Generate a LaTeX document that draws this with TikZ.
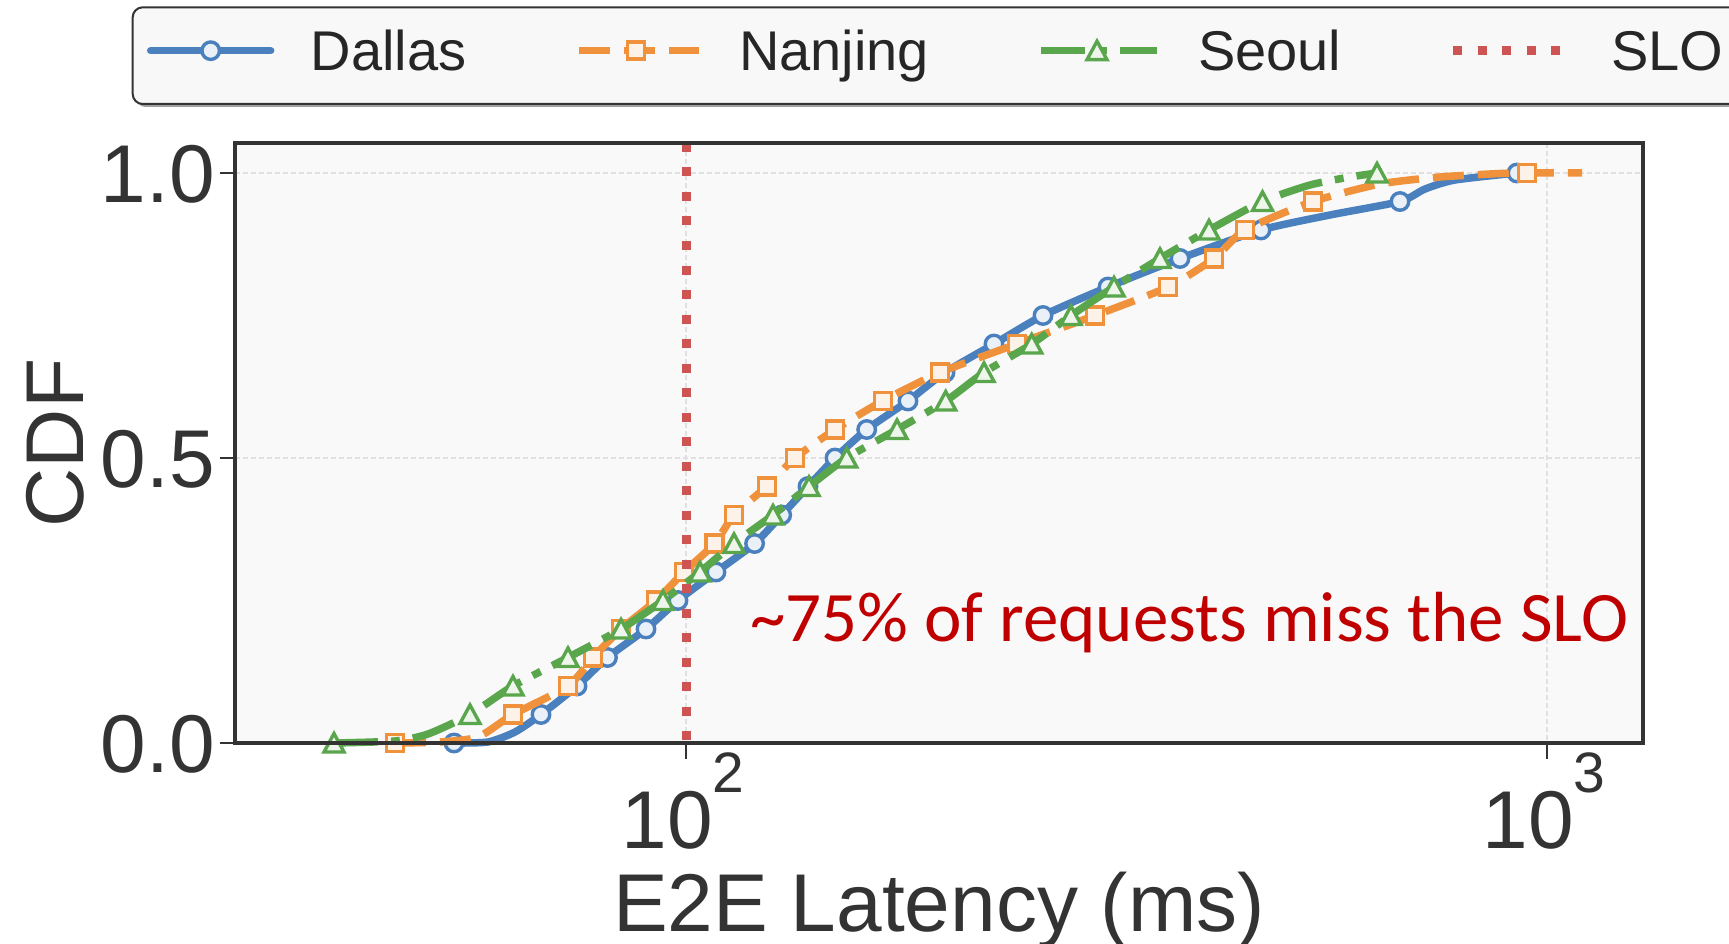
\documentclass[tikz,border=0pt]{standalone}
\usepackage{fontspec}
\setmainfont{Liberation Sans}
\newfontfamily\calibrifont{Carlito}
\definecolor{cblue}{HTML}{4A80BD}
\definecolor{corange}{HTML}{F0923C}
\definecolor{cgreen}{HTML}{5AA64C}
\definecolor{cred}{HTML}{CE5454}
\definecolor{axgray}{HTML}{333333}
\definecolor{txtgray}{HTML}{262626}
\definecolor{bggray}{HTML}{F9F9F9}
\definecolor{legbg}{HTML}{F8F8F8}
\definecolor{gridgray}{HTML}{E0E0E0}
\definecolor{annotred}{HTML}{C00000}
\definecolor{bfill}{HTML}{E9F0F8}
\definecolor{ofill}{HTML}{FDF2E8}
\definecolor{gfill}{HTML}{EEF6EC}
\tikzset{
  dallasline/.style={cblue, line width=7.5pt, line cap=round, line join=round},
  nanjingline/.style={corange, line width=7.5pt, line join=round, dash pattern=on 31pt off 14pt},
  seoulline/.style={cgreen, line width=7.5pt, line join=round, dash pattern=on 44pt off 13pt on 9pt off 13pt},
  sloline/.style={cred, line width=9pt, dash pattern=on 9pt off 15.5pt},
  dmark/.style={circle, draw=cblue, fill=bfill, line width=3.4pt, minimum size=17.5pt, inner sep=0pt},
  omark/.style={rectangle, draw=corange, fill=ofill, line width=3.4pt, minimum size=17pt, inner sep=0pt},
  gmark/.pic={\filldraw[draw=cgreen, fill=gfill, line width=3.4pt, line join=miter] (0,-9.5) -- (-10,9) -- (10,9) -- cycle;},
  ticklab/.style={font=\fontsize{82}{82}\selectfont, text=axgray, inner sep=0pt},
  legtext/.style={font=\fontsize{56}{56}\selectfont, text=txtgray, inner sep=0pt, anchor=base west},
  gridline/.style={gridgray, line width=1.3pt, dash pattern=on 5pt off 3pt},
  frameline/.style={axgray, line width=3.2pt},
  tickline/.style={axgray, line width=2.4pt},
}
\def\dallasM{454/743, 541/714.5, 577/686, 607.5/657.5, 646/629, 678/600.5, 716/572, 754.6/543.5, 781.7/515, 808/486.5, 835/458, 866.7/429.5, 908/401, 945/372.5, 994/344, 1043/315.5, 1108/287, 1180/258.5, 1261/230, 1400/201.5, 1517/173}
\def\nanjingM{395/743, 513/714.5, 568/686, 593/657.5, 621/629, 656/600.5, 684/572, 714.6/543.5, 734/515, 766.7/486.5, 795/458, 835/429.5, 882.7/401, 940/372.5, 1016.7/344, 1095/315.5, 1168/287, 1214/258.5, 1245/230, 1313/201.5, 1527/173}
\def\seoulM{334/743, 470/714.5, 513/686, 568/657.5, 621/629, 663/600.5, 700/572, 734/543.5, 773/515, 809/486.5, 846.7/458, 897/429.5, 945.7/401, 984/372.5, 1031.7/344, 1071/315.5, 1114/287, 1160/258.5, 1209/230, 1262.5/201.5, 1377/173}
\begin{document}
\begin{tikzpicture}[x=1pt, y=-1pt]
\useasboundingbox (0,0) rectangle (1729,944);
\clip (0,0) rectangle (1729,944);
\fill[white] (0,0) rectangle (1729,944);

% ---------- legend ----------
\fill[gray!75, rounded corners=10pt] (135.7,10.3) rectangle (1765,107);
\draw[axgray, line width=2pt, fill=legbg, rounded corners=10pt] (132.7,7.3) rectangle (1762,104);
\draw[dallasline] (150.7,50.7) -- (270.7,50.7);
\node[dmark] (lmD) at (210.7,50.7) {};
\node[legtext] (lgD) at (310.5,70.7) {Dallas};
\draw[nanjingline] (579,50.7) -- (699,50.7);
\node[omark] (lmN) at (636,50.7) {};
\node[legtext] (lgN) at (739,70.7) {Nanjing};
\draw[seoulline] (1041,50.7) -- (1157,50.7);
\pic at (1097,50.7) {gmark};
\node[legtext] (lgS) at (1198,70.7) {Seoul};
\draw[sloline] (1453,50.7) -- (1568,50.7);
\node[legtext] (lgL) at (1611,70.7) {SLO};

% ---------- axes background & grid ----------
\fill[bggray] (235,143) rectangle (1643,743);
\draw[gridline] (235,173) -- (1643,173);
\draw[gridline] (235,458) -- (1643,458);
\draw[gridline] (686,143) -- (686,743);
\draw[gridline] (1547,143) -- (1547,743);

% ---------- Dallas ----------
\draw[dallasline] plot[smooth, tension=0.4] coordinates {(454,743) (488,742) (515,732) (541,714.5) (577,686) (607.5,657.5) (646,629) (678,600.5) (716,572) (754.6,543.5) (781.7,515) (808,486.5) (835,458) (866.7,429.5) (908,401) (945,372.5) (994,344) (1043,315.5) (1108,287) (1180,258.5) (1261,230) (1330,215) (1400,201.5) (1425,189) (1455,180) (1517,173)};
\foreach \px/\py in \dallasM {\node[dmark] at (\px,\py) {};}

% ---------- Nanjing ----------
\draw[nanjingline] plot[smooth, tension=0.4] coordinates {(395,743) (440,742) (478,737) (513,714.5) (568,686) (593,657.5) (621,629) (656,600.5) (684,572) (714.6,543.5) (734,515) (766.7,486.5) (795,458) (835,429.5) (882.7,401) (940,372.5) (1016.7,344) (1095,315.5) (1168,287) (1214,258.5) (1245,230) (1313,201.5) (1380,184) (1440,177) (1500,173.5) (1527,173) (1582,173)};
\foreach \px/\py in \nanjingM {\node[omark] at (\px,\py) {};}

% ---------- Seoul ----------
\draw[seoulline] plot[smooth, tension=0.4] coordinates {(334,743) (395,741) (428,734) (470,714.5) (513,686) (568,657.5) (621,629) (663,600.5) (700,572) (734,543.5) (773,515) (809,486.5) (846.7,458) (897,429.5) (945.7,401) (984,372.5) (1031.7,344) (1071,315.5) (1114,287) (1160,258.5) (1209,230) (1262.5,201.5) (1310,185) (1350,177) (1377,173)};
\foreach \px/\py in \seoulM {\pic at (\px,\py) {gmark};}

% ---------- SLO ----------
\coordinate (sloTop) at (686,143);
\coordinate (sloBot) at (686,743);
\draw[sloline] (sloTop) -- (sloBot);

% ---------- annotation ----------
\node[font=\calibrifont\fontsize{71}{71}\selectfont, text=annotred, inner sep=0pt, anchor=base west] (annot) at (750,641) {\textasciitilde 75\% of requests miss the SLO};

% ---------- frame & ticks ----------
\draw[frameline] (235,143) rectangle (1643,743);
\draw[tickline] (235,173) -- (220,173);
\draw[tickline] (235,458) -- (220,458);
\draw[tickline] (235,743) -- (220,743);
\draw[tickline] (686,743) -- (686,759);
\draw[tickline] (1547,743) -- (1547,759);

\node[ticklab, anchor=base east] (yl10) at (215,202.5) {1.0};
\node[ticklab, anchor=base east] (yl05) at (215,487.5) {0.5};
\node[ticklab, anchor=base east] (yl00) at (215,772.5) {0.0};
\node[ticklab, anchor=base] (xl2) at (683,848) {10\raisebox{56pt}{\fontsize{57}{57}\selectfont 2}};
\node[ticklab, anchor=base] (xl3) at (1544,848) {10\raisebox{56pt}{\fontsize{57}{57}\selectfont 3}};
\node[ticklab, anchor=base] (xlab) at (939,931) {E2E Latency (ms)};
\node[ticklab, anchor=base, rotate=90] (ylab) at (83,443) {CDF};
\end{tikzpicture}
\end{document}
